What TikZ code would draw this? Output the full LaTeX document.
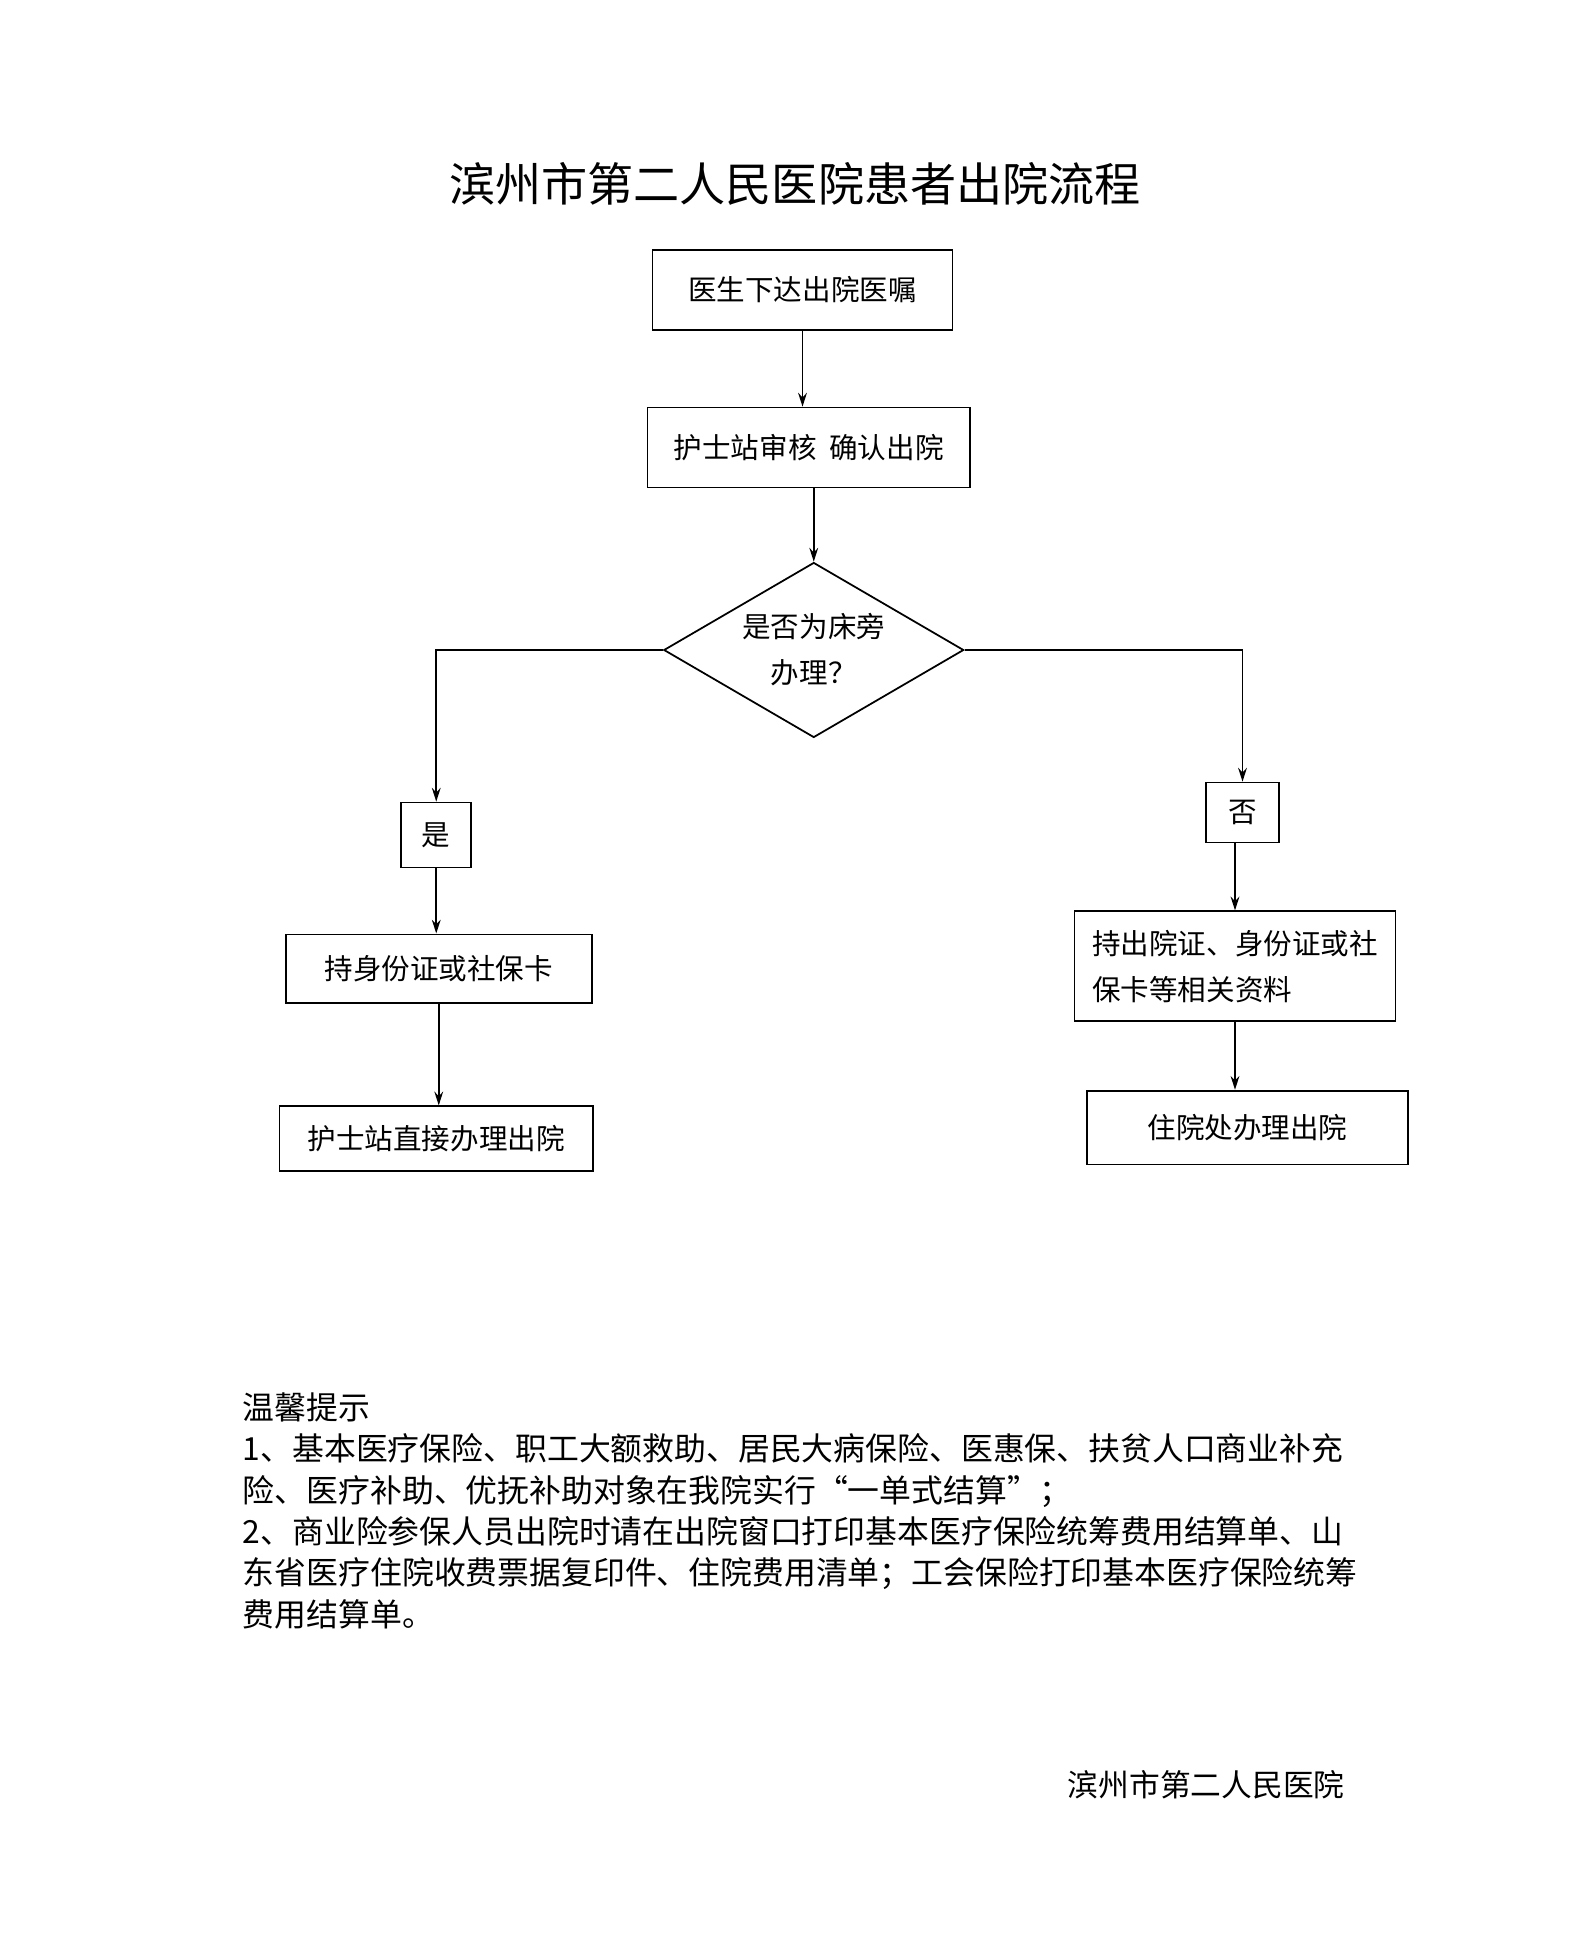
\documentclass[tikz,border=0pt]{standalone}
\usepackage{fontspec}
\setmainfont{Noto Sans CJK SC}
\usetikzlibrary{arrows.meta, shapes.geometric}

\tikzset{
  flowbox/.style={draw, thick, inner sep=0, font=\fontsize{13}{16}\selectfont},
  arr/.style={-{Stealth[length=2.2mm,width=1.4mm]}, thick},
}

\begin{document}
\begin{tikzpicture}[x=0.02cm, y=-0.02cm]

  % Page frame
  \useasboundingbox (0,0) rectangle (1270,1568);

  % Title
  \node[font=\fontsize{21}{24}\selectfont] (title) at (636,147) {滨州市第二人民医院患者出院流程};

  % Main column
  \node[flowbox, minimum width=4.8cm, minimum height=1.28cm] (order) at (642,232) {医生下达出院医嘱};
  \node[flowbox, minimum width=5.16cm, minimum height=1.28cm] (check) at (647,358) {护士站审核\ \ 确认出院};
  \node[draw, thick, diamond, aspect=1.72, minimum width=4.8cm, minimum height=2.8cm, inner sep=0,
        align=center, font=\fontsize{13}{21}\selectfont] (ask) at (651,520) {是否为床旁\\办理？};

  % Left branch
  \node[flowbox, minimum width=1.12cm, minimum height=1.04cm] (yes) at (349,668) {是};
  \node[flowbox, minimum width=4.9cm, minimum height=1.1cm] (card) at (351,775) {持身份证或社保卡};
  \node[flowbox, minimum width=5.02cm, minimum height=1.04cm] (ward) at (349,911) {护士站直接办理出院};

  % Right branch
  \node[flowbox, minimum width=1.16cm, minimum height=0.96cm] (no) at (994,650) {否};
  \node[flowbox, minimum width=5.14cm, minimum height=1.76cm, align=left,
        font=\fontsize{13}{21}\selectfont] (docs) at (988,773) {持出院证、身份证或社\\保卡等相关资料\hspace{2.8em}};
  \node[flowbox, minimum width=5.14cm, minimum height=1.18cm] (office) at (998,902) {住院处办理出院};

  % Connectors
  \draw[arr] (order.south) -- (order.south |- check.north);
  \draw[arr] (check.south -| ask.north) -- (ask.north);
  \draw[arr] (ask.west) -| (yes.north);
  \draw[arr] (ask.east) -| (no.north);
  \draw[arr] (yes.south) -- (yes.south |- card.north);
  \draw[arr] (card.south) -- (card.south |- ward.north);
  \draw[arr] (no.south -| docs.north) -- (docs.north);
  \draw[arr] (docs.south) -- (docs.south |- office.north);

  % Notes
  \node[anchor=north west, align=left, inner sep=0, font=\fontsize{14.5}{18.8}\selectfont] (notes) at (194,1114)
    {温馨提示\\
     1、基本医疗保险、职工大额救助、居民大病保险、医惠保、扶贫人口商业补充\\
     险、医疗补助、优抚补助对象在我院实行“一单式结算”；\\
     2、商业险参保人员出院时请在出院窗口打印基本医疗保险统筹费用结算单、山\\
     东省医疗住院收费票据复印件、住院费用清单；工会保险打印基本医疗保险统筹\\
     费用结算单。};

  % Footer
  \node[anchor=east, inner sep=0, font=\fontsize{14}{16}\selectfont] (sign) at (1076,1428) {滨州市第二人民医院};

\end{tikzpicture}
\end{document}
